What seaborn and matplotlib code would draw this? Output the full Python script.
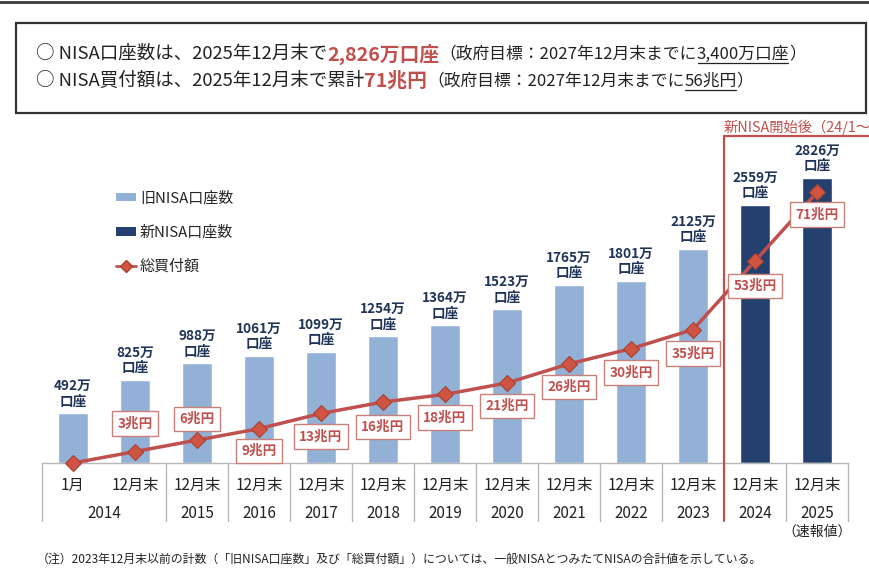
import numpy as np
import pandas as pd
import seaborn as sns
import matplotlib.pyplot as plt
import matplotlib.transforms as mtransforms
from matplotlib.patches import Patch, Rectangle
from matplotlib.lines import Line2D

# --- data ---
months = ['1月'] + ['12月末'] * 12
years = ['2014', '2015', '2016', '2017', '2018', '2019', '2020',
         '2021', '2022', '2023', '2024', '2025']
year_span = [2, 1, 1, 1, 1, 1, 1, 1, 1, 1, 1, 1]
accounts = [492, 825, 988, 1061, 1099, 1254, 1364, 1523, 1765, 1801, 2125, 2559, 2826]
amount = [0, 3, 6, 9, 13, 16, 18, 21, 26, 30, 35, 53, 71]
kind = ['旧NISA口座数'] * 11 + ['新NISA口座数'] * 2

# layout: vertical offset (px, + = below) of each amount label
amount_label_dy = [None, -28, -21, 22, 23, 25, 23, 23, 23, 24, 24, 25, 22]

LIGHT = '#93b1d6'
DARK = '#23406f'
RED = '#c0504d'
NAVY = '#1f3457'
TXT = '#222222'

W, H = 870, 578
fx = lambda p: p / W
fy = lambda p: 1 - p / H

sns.set_theme(style='white')
plt.rcParams['font.family'] = ['Noto Sans CJK JP', 'DejaVu Sans']

fig = plt.figure(figsize=(W / 100, H / 100), dpi=100)
fig.patch.set_facecolor('white')
ax = fig.add_axes([fx(42), fy(463), 806 / W, 327 / H])

df = pd.DataFrame({'pos': np.arange(len(accounts)), 'accounts': accounts, 'kind': kind})
sns.barplot(data=df, x='pos', y='accounts', hue='kind',
            palette={'旧NISA口座数': LIGHT, '新NISA口座数': DARK},
            dodge=False, width=0.48, saturation=1, legend=False, ax=ax)
ax.set_xlim(-0.5, len(accounts) - 0.5)
ax.set_ylim(0, 3240)
ax.set_xticks([])
ax.set_yticks([])
ax.set_xlabel('')
ax.set_ylabel('')
for s in ['top', 'left', 'right']:
    ax.spines[s].set_visible(False)
ax.spines['bottom'].set_color('#b8b8b8')
ax.spines['bottom'].set_linewidth(1)

for i, v in enumerate(accounts):
    ax.annotate(f'{v}万\n口座', (i, v), xytext=(0, 5), textcoords='offset pixels',
                ha='center', va='bottom', fontsize=9.8, fontweight='bold',
                color=NAVY, linespacing=1.1)

ax2 = ax.twinx()
sns.lineplot(x=df['pos'], y=amount, ax=ax2, color=RED, lw=2.5,
             marker='D', markersize=8, markerfacecolor='#cf5442',
             markeredgecolor='#a8402f', markeredgewidth=0.8)
ax2.lines[0].set_clip_on(False)
ax2.set_ylim(0, 85.8)
ax2.set_yticks([])
ax2.set_ylabel('')
for s in ax2.spines.values():
    s.set_visible(False)

for i, v in enumerate(amount):
    if amount_label_dy[i] is None:
        continue
    ax2.annotate(f'{v}兆円', (i, v), xytext=(0, -amount_label_dy[i]),
                 textcoords='offset pixels', ha='center', va='center',
                 fontsize=9.8, fontweight='bold', color=RED, zorder=5,
                 bbox=dict(boxstyle='square,pad=0.38', fc='white', ec='#c98078', lw=1))

# category table under the axis
tr = mtransforms.blended_transform_factory(ax.transData, fig.transFigure)
for i, m in enumerate(months):
    fig.text(i, fy(485), m, transform=tr, ha='center', va='center', fontsize=11, color=TXT)
start = -0.5
bounds = [start]
for y, n in zip(years, year_span):
    center = start + n / 2
    fig.text(center, fy(513), y, transform=tr, ha='center', va='center', fontsize=11, color=TXT)
    start += n
    bounds.append(start)
for b in bounds:
    if b == 10.5:
        continue
    fig.add_artist(Line2D([b, b], [fy(463), fy(521)], transform=tr, color='#b8b8b8', lw=1))

# new NISA frame
fig.add_artist(Line2D([10.5, 10.5], [fy(136), fy(521)], transform=tr, color=RED, lw=1.6))
fig.add_artist(Line2D([fx(724), 1.0], [fy(136), fy(136)], color=RED, lw=1.6))
fig.text(10.5, fy(127), '新NISA開始後（24/1～', transform=tr, ha='left', va='center',
         fontsize=10.3, color=RED)
fig.text(fx(817), fy(532), '（速報値）', ha='center', va='center', fontsize=10, color=TXT)

# legend
handles = [Patch(facecolor=LIGHT, edgecolor='none'),
           Patch(facecolor=DARK, edgecolor='none'),
           Line2D([], [], color=RED, lw=2, marker='D', markersize=6,
                  markerfacecolor='#cf5442', markeredgecolor='#a8402f')]
fig.legend(handles, ['旧NISA口座数', '新NISA口座数', '総買付額'],
           loc='upper left', bbox_to_anchor=(fx(116), fy(191)), frameon=False,
           fontsize=10.8, handlelength=1.3, handleheight=0.5, handletextpad=0.3,
           labelspacing=1.33, borderpad=0, borderaxespad=0)

# header box
fig.add_artist(Line2D([0, 1], [fy(1.5), fy(1.5)], color='#3a3a3a', lw=2))
fig.add_artist(Rectangle((fx(16), fy(113)), (866 - 16) / W, 90 / H, transform=fig.transFigure,
                         fill=False, ec='#333333', lw=1.6))

renderer = fig.canvas.get_renderer()


def draw_runs(x0, y0, runs):
    x = x0
    for txt, size, weight, color, underline in runs:
        t = fig.text(fx(x), fy(y0), txt, ha='left', va='center', fontsize=size,
                     fontweight=weight, color=color)
        bb = t.get_window_extent(renderer)
        if underline:
            fig.add_artist(Line2D([fx(x + 1), fx(x + bb.width - 1)],
                                  [fy(y0 + 9), fy(y0 + 9)], color=color, lw=0.9))
        x += bb.width


draw_runs(36, 54, [('○ NISA口座数は、2025年12月末で', 13.3, 'normal', TXT, False),
                   ('2,826万口座', 14.2, 'bold', RED, False),
                   ('（政府目標：2027年12月末までに', 12.1, 'normal', TXT, False),
                   ('3,400万口座', 12.1, 'normal', TXT, True),
                   ('）', 12.1, 'normal', TXT, False)])
draw_runs(36, 81, [('○ NISA買付額は、2025年12月末で累計', 13.3, 'normal', TXT, False),
                   ('71兆円', 14.2, 'bold', RED, False),
                   ('（政府目標：2027年12月末までに', 12.1, 'normal', TXT, False),
                   ('56兆円', 12.1, 'normal', TXT, True),
                   ('）', 12.1, 'normal', TXT, False)])

fig.text(fx(37), fy(559), '（注）2023年12月末以前の計数（「旧NISA口座数」及び「総買付額」）については、'
         '一般NISAとつみたてNISAの合計値を示している。', ha='left', va='center',
         fontsize=8.6, color=TXT)

fig.savefig('out.png', dpi=100)
